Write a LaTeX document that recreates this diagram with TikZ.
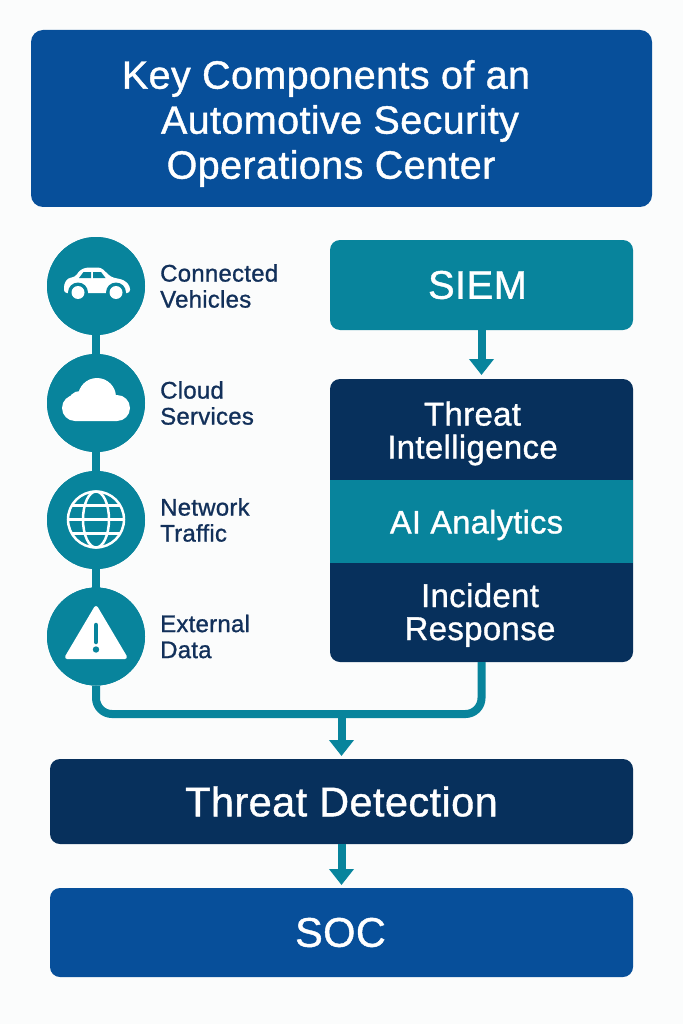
\documentclass[tikz,border=0pt]{standalone}
\usepackage{fontspec}
\setmainfont{Liberation Sans}[FakeBold=1,LetterSpace=1]
\usetikzlibrary{arrows.meta,calc}
\definecolor{bgc}{HTML}{FBFCFC}
\definecolor{blueb}{HTML}{074F9A}
\definecolor{tealc}{HTML}{08849C}
\definecolor{navyc}{HTML}{07305C}
\definecolor{labelc}{HTML}{12305A}
\tikzset{
  boxn/.style={draw=none,inner sep=0pt,outer sep=0pt,rounded corners=10pt,text=white,align=center},
  circn/.style={circle,fill=tealc,minimum size=98pt,inner sep=0pt,outer sep=0pt},
  labn/.style={anchor=west,align=left,text=labelc,inner sep=0pt,font=\fontsize{24}{26}\selectfont},
  conn/.style={draw=tealc,line width=8pt},
  arr/.style={conn,-{Triangle[width=24pt,length=16pt]}},
  txtn/.style={text=white,align=center,inner sep=0pt},
  glb/.style={draw=white,line width=2.5pt}
}
\begin{document}
\begin{tikzpicture}[x=1pt,y=-1pt]
\useasboundingbox (0,0) rectangle (683,1024);
\fill[bgc] (0,0) rectangle (683,1024);
% boxes
\node[boxn,fill=blueb,minimum width=621pt,minimum height=177pt,rounded corners=12pt] (title) at (341.5,118.5) {};
\node[txtn,font=\fontsize{39.5}{45}\selectfont] (titletext) at (340,123.5) {Key Components of an\hspace*{28pt}\\Automotive Security\\Operations Center\hspace*{18pt}};
\node[boxn,fill=tealc,minimum width=303pt,minimum height=90pt,font=\fontsize{40}{44}\selectfont] (siem) at (481.5,285) {SIEM\hspace*{8pt}};
\node[boxn,fill=navyc,minimum width=303pt,minimum height=283pt] (stack) at (481.5,520.5) {};
\node[fill=tealc,minimum width=303pt,minimum height=83pt,inner sep=0pt,outer sep=0pt] (aiband) at (481.5,521.5) {};
\node[txtn,font=\fontsize{33}{33}\selectfont] (ti) at (472.5,433.5) {Threat\\Intelligence};
\node[txtn,font=\fontsize{32.5}{33}\selectfont] (ai) at (476.5,525) {AI Analytics};
\node[txtn,font=\fontsize{33}{33}\selectfont] (ir) at (480,615) {Incident\\Response};
\node[boxn,fill=navyc,minimum width=583pt,minimum height=85pt,font=\fontsize{41.5}{46}\selectfont] (detect) at (341.5,801.5) {Threat Detection};
\node[boxn,fill=blueb,minimum width=583pt,minimum height=89pt,font=\fontsize{41.5}{46}\selectfont] (soc) at (341.5,932.5) {SOC\hspace*{2pt}};
% circles
\node[circn] (c1) at (96,286) {};
\node[circn] (c2) at (96,403) {};
\node[circn] (c3) at (96,520) {};
\node[circn] (c4) at (96,636.5) {};
\coordinate (bus) at (341.5,714);
% connectors
\draw[conn] (c1) -- (c2);
\draw[conn] (c2) -- (c3);
\draw[conn] (c3) -- (c4);
\draw[conn,rounded corners=16pt] (c4.south) |- (bus) -| (stack.south);
\draw[arr,shorten >=4pt] (siem.south) -- (stack.north);
\draw[arr,shorten >=3pt] (bus) -- (detect.north);
\draw[arr,shorten >=3pt] (detect.south) -- (soc.north);
% circles over the links
\fill[tealc] (c1) circle (49pt) (c2) circle (49pt) (c3) circle (49pt) (c4) circle (49pt);
% labels
\node[labn] (l1) at (160,286) {Connected\\Vehicles};
\node[labn] (l2) at (160,403) {Cloud\\Services};
\node[labn] (l3) at (160,520) {Network\\Traffic};
\node[labn] (l4) at (160,636.5) {External\\Data};
% car icon
\fill[white,rounded corners=3pt] (64,293) -- (64,284) -- (68,278) -- (75,277) -- (80,270) -- (86,267.5) -- (101,267.5) -- (111,277) -- (124,280) -- (130,286) -- (130,293) -- cycle;
\fill[tealc] (79,278) -- (83.5,272) -- (91,272) -- (91,278) -- cycle;
\fill[tealc] (93,272) -- (101,272) -- (105.5,278) -- (93,278) -- cycle;
\fill[tealc] (78,292.5) circle (10pt) (116,292.5) circle (10pt);
\fill[white] (78,292.5) circle (6.5pt) (116,292.5) circle (6.5pt);
% cloud icon
\fill[white] (97,397) circle (19pt) (75,408) circle (13pt) (117,408) circle (13pt) (80,403) circle (12pt) (75,405) rectangle (117,421);
% globe icon
\draw[glb] (96,519.5) circle (28pt);
\draw[glb] (96,519.5) ellipse (13pt and 28pt);
\draw[glb] (68,519.5) -- (124,519.5);
\draw[glb] (71,505.5) -- (121,505.5);
\draw[glb] (71,533.5) -- (121,533.5);
% warning icon
\fill[white,draw=white,line width=4pt,line join=round] (96,608) -- (67,657) -- (125,657) -- cycle;
\draw[tealc,line width=4.5pt,line cap=round] (96,625) -- (96,642);
\fill[tealc] (96,649.5) circle (3.2pt);
\end{tikzpicture}
\end{document}
